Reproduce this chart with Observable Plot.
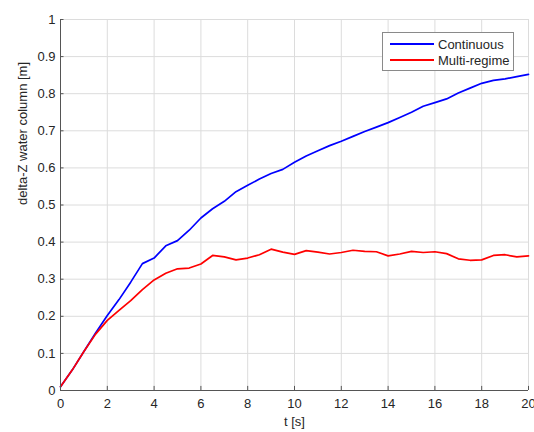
<!DOCTYPE html>
<html><head><meta charset="utf-8">
<script src="https://cdn.jsdelivr.net/npm/d3@7"></script>
<script src="https://cdn.jsdelivr.net/npm/@observablehq/plot@0.6"></script>
<style>
body{margin:0;background:#fff;}
#wrap{position:relative;width:534px;height:432px;font-family:"Liberation Sans",Arial,sans-serif;}
#legend{position:absolute;left:382px;top:32px;width:130px;height:37px;border:1px solid #8a8a8a;background:#fff;font-size:13px;color:#262626;}
.item{position:absolute;left:7px;height:16px;display:flex;align-items:center;}
.item .sw{width:44px;height:2px;margin-right:4px;}
</style>
</head><body><div id="wrap"></div>
<script>
const tValues = [0,0.5,1,1.5,2,2.5,3,3.5,4,4.5,5,5.5,6,6.5,7,7.5,8,8.5,9,9.5,10,10.5,11,11.5,12,12.5,13,13.5,14,14.5,15,15.5,16,16.5,17,17.5,18,18.5,19,19.5,20];
const continuous = [0.01,0.055,0.105,0.155,0.202,0.245,0.292,0.342,0.357,0.39,0.404,0.432,0.465,0.49,0.51,0.536,0.553,0.57,0.585,0.596,0.615,0.632,0.646,0.66,0.672,0.685,0.698,0.71,0.722,0.736,0.75,0.766,0.776,0.786,0.802,0.815,0.828,0.836,0.84,0.846,0.852];
const multiRegime = [0.01,0.055,0.105,0.152,0.189,0.216,0.242,0.272,0.298,0.316,0.328,0.33,0.341,0.364,0.36,0.352,0.357,0.366,0.381,0.373,0.367,0.377,0.373,0.368,0.372,0.378,0.375,0.374,0.363,0.368,0.375,0.372,0.374,0.369,0.355,0.351,0.352,0.364,0.366,0.36,0.363];
const seriesNames = ["Continuous","Multi-regime"];
const seriesColors = ["#0000ff","#ff0000"];
const xTicks = [0,2,4,6,8,10,12,14,16,18,20];
const yTicks = [0,0.1,0.2,0.3,0.4,0.5,0.6,0.7,0.8,0.9,1];
const xLabel = "t [s]";
const yLabel = "delta-Z water column [m]";

const rows = tValues.flatMap((t,i)=>[
  {t, v: continuous[i], s: seriesNames[0]},
  {t, v: multiRegime[i], s: seriesNames[1]}
]);

const axisColor = "#555";
const chart = Plot.plot({
  width:534, height:432,
  marginLeft:60, marginRight:6, marginTop:19, marginBottom:42,
  style:{fontFamily:'"Liberation Sans", Arial, sans-serif', fontSize:"13px", color:"#262626", background:"#fff"},
  x:{domain:[0,20]},
  y:{domain:[0,1]},
  color:{domain:seriesNames, range:seriesColors},
  marks:[
    Plot.gridX(xTicks,{stroke:"#dcdcdc", strokeOpacity:1}),
    Plot.gridY(yTicks,{stroke:"#dcdcdc", strokeOpacity:1}),
    Plot.axisX(xTicks,{tickSize:0, tickPadding:8, label:null, fill:"#262626"}),
    Plot.axisY(yTicks,{tickSize:0, tickPadding:5, label:null, fill:"#262626", tickFormat:d=>String(d)}),
    Plot.line(rows,{x:"t", y:"v", z:"s", stroke:"s", strokeWidth:1.7}),
    Plot.ruleX([0],{stroke:axisColor}),
    Plot.ruleY([0],{stroke:axisColor}),
    Plot.ruleX(xTicks,{x:d=>d, y1:0, y2:0.011, stroke:axisColor}),
    Plot.ruleY(yTicks,{y:d=>d, x1:0, x2:0.15, stroke:axisColor}),
    Plot.text([xLabel],{frameAnchor:"bottom", dy:31, lineAnchor:"middle", fill:"#262626", fontSize:13}),
    Plot.text([yLabel],{frameAnchor:"left", dx:-38, rotate:-90, fill:"#262626", fontSize:13})
  ]
});
const wrap = document.getElementById("wrap");
wrap.appendChild(chart);
const legend = document.createElement("div");
legend.id = "legend";
seriesNames.forEach((name,i)=>{
  const it = document.createElement("div");
  it.className = "item";
  it.style.top = (3 + i*16) + "px";
  it.innerHTML = `<span class="sw" style="background:${seriesColors[i]}"></span><span>${name}</span>`;
  legend.appendChild(it);
});
wrap.appendChild(legend);
</script>
</body></html>
